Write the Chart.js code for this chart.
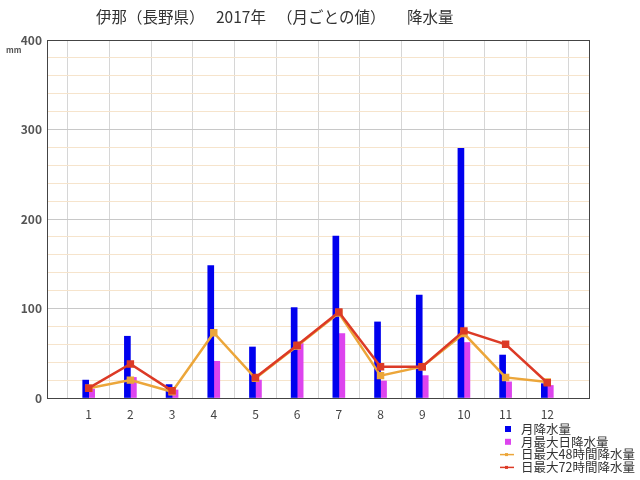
<!DOCTYPE html>
<html lang="ja">
<head>
    <meta charset="UTF-8">
    <title>伊那（長野県） 2017年 降水量</title>
    <script src="https://cdn.jsdelivr.net/npm/chart.js"></script>
    <style>
        body { margin: 0; background: #fff; }
        canvas { display: block; }
    </style>
</head>
<body>
    <canvas id="rainChart" width="640" height="480"></canvas>

    <script>
        // 月ごとの値 (mm)
        const months = ['1', '2', '3', '4', '5', '6', '7', '8', '9', '10', '11', '12'];
        const monthlyRain = [20, 69, 15, 148, 57, 101, 181, 85, 115, 279, 48, 16];
        const maxDaily = [10, 23, 9, 41, 20, 61, 72, 19, 25, 62, 18, 14];
        const max48h = [11, 20, 7, 73, 22, 58, 95, 25, 35, 72, 23, 18];
        const max72h = [11, 38, 8, null, 23, 59, 96, 35, 35, 75, 60, 17];
        const yLabels = [0, 100, 200, 300, 400];

        const FONT = '"Noto Sans CJK JP", "DejaVu Sans", sans-serif';

        // 両端に空のカテゴリを置いて、目盛りの間隔を合わせる
        const pad = arr => [null, ...arr, null];

        const extras = {
            id: 'extras',
            afterDraw(chart) {
                const ctx = chart.ctx;
                const a = chart.chartArea;
                ctx.save();
                ctx.strokeStyle = '#444';
                ctx.lineWidth = 1;
                ctx.strokeRect(a.left + 0.5, a.top + 0.5, a.right - a.left, a.bottom - a.top);

                // タイトル
                ctx.fillStyle = '#333';
                ctx.textBaseline = 'middle';
                ctx.font = '15.5px ' + FONT;
                ctx.fillText('伊那（長野県）', 96, 17);
                ctx.fillText('2017年', 216, 17);
                ctx.fillText('（月ごとの値）', 277, 17);
                ctx.fillText('降水量', 407, 17);

                // 単位
                ctx.fillStyle = '#555';
                ctx.font = 'bold 8px ' + FONT;
                ctx.fillText('mm', 6, 50);

                // 凡例
                ctx.font = '12.5px ' + FONT;
                chart.data.datasets.forEach((ds, i) => {
                    const y = 429 + i * 12.8;
                    ctx.fillStyle = ds.backgroundColor;
                    if (ds.type === 'line') {
                        ctx.strokeStyle = ds.borderColor;
                        ctx.lineWidth = 1.5;
                        ctx.beginPath();
                        ctx.moveTo(500, y);
                        ctx.lineTo(514, y);
                        ctx.stroke();
                        ctx.fillRect(505, y - 1.5, 3, 3);
                    } else {
                        ctx.fillRect(505, y - 3, 6, 6);
                    }
                    ctx.fillStyle = '#333';
                    ctx.fillText(ds.label, 521, y);
                });
                ctx.restore();
            }
        };

        new Chart(document.getElementById('rainChart'), {
            type: 'bar',
            data: {
                labels: pad(months).map(m => m || ''),
                datasets: [
                    {
                        label: '月降水量',
                        data: pad(monthlyRain),
                        backgroundColor: '#0000ee',
                        barThickness: 6,
                        order: 3
                    },
                    {
                        label: '月最大日降水量',
                        data: pad(maxDaily),
                        backgroundColor: '#dd44ee',
                        barThickness: 6,
                        order: 3
                    },
                    {
                        type: 'line',
                        label: '日最大48時間降水量',
                        data: pad(max48h),
                        borderColor: '#eca63a',
                        backgroundColor: '#eca63a',
                        borderWidth: 2.5,
                        pointStyle: 'rect',
                        pointRadius: 3.5,
                        tension: 0,
                        spanGaps: false,
                        order: 1
                    },
                    {
                        type: 'line',
                        label: '日最大72時間降水量',
                        data: pad(max72h),
                        borderColor: '#dc3a26',
                        backgroundColor: '#dc3a26',
                        borderWidth: 2.5,
                        pointStyle: 'rect',
                        pointRadius: 3.5,
                        tension: 0,
                        spanGaps: false,
                        order: 0
                    }
                ]
            },
            options: {
                responsive: false,
                animation: false,
                layout: { padding: { top: 40, right: 51, left: 0, bottom: 0 } },
                plugins: {
                    legend: { display: false },
                    tooltip: { enabled: false }
                },
                scales: {
                    x: {
                        offset: false,
                        grid: { color: '#d6d6d6', drawTicks: false },
                        border: { color: '#444' },
                        ticks: {
                            autoSkip: false,
                            maxRotation: 0,
                            padding: 9,
                            color: '#444',
                            font: { family: FONT, size: 12 }
                        },
                        afterFit(scale) { scale.height = 82; }
                    },
                    y: {
                        min: 0,
                        max: 400,
                        grid: {
                            drawTicks: false,
                            color: c => yLabels.includes(c.tick.value) ? '#c8c8c8' : '#f6e4cc'
                        },
                        border: { color: '#444' },
                        ticks: {
                            stepSize: 20,
                            padding: 5,
                            color: '#555',
                            font: { family: FONT, size: 12, weight: 'bold' },
                            callback: v => yLabels.includes(v) ? v : ''
                        },
                        afterFit(scale) { scale.width = 47; }
                    }
                }
            },
            plugins: [extras]
        });
    </script>
</body>
</html>
